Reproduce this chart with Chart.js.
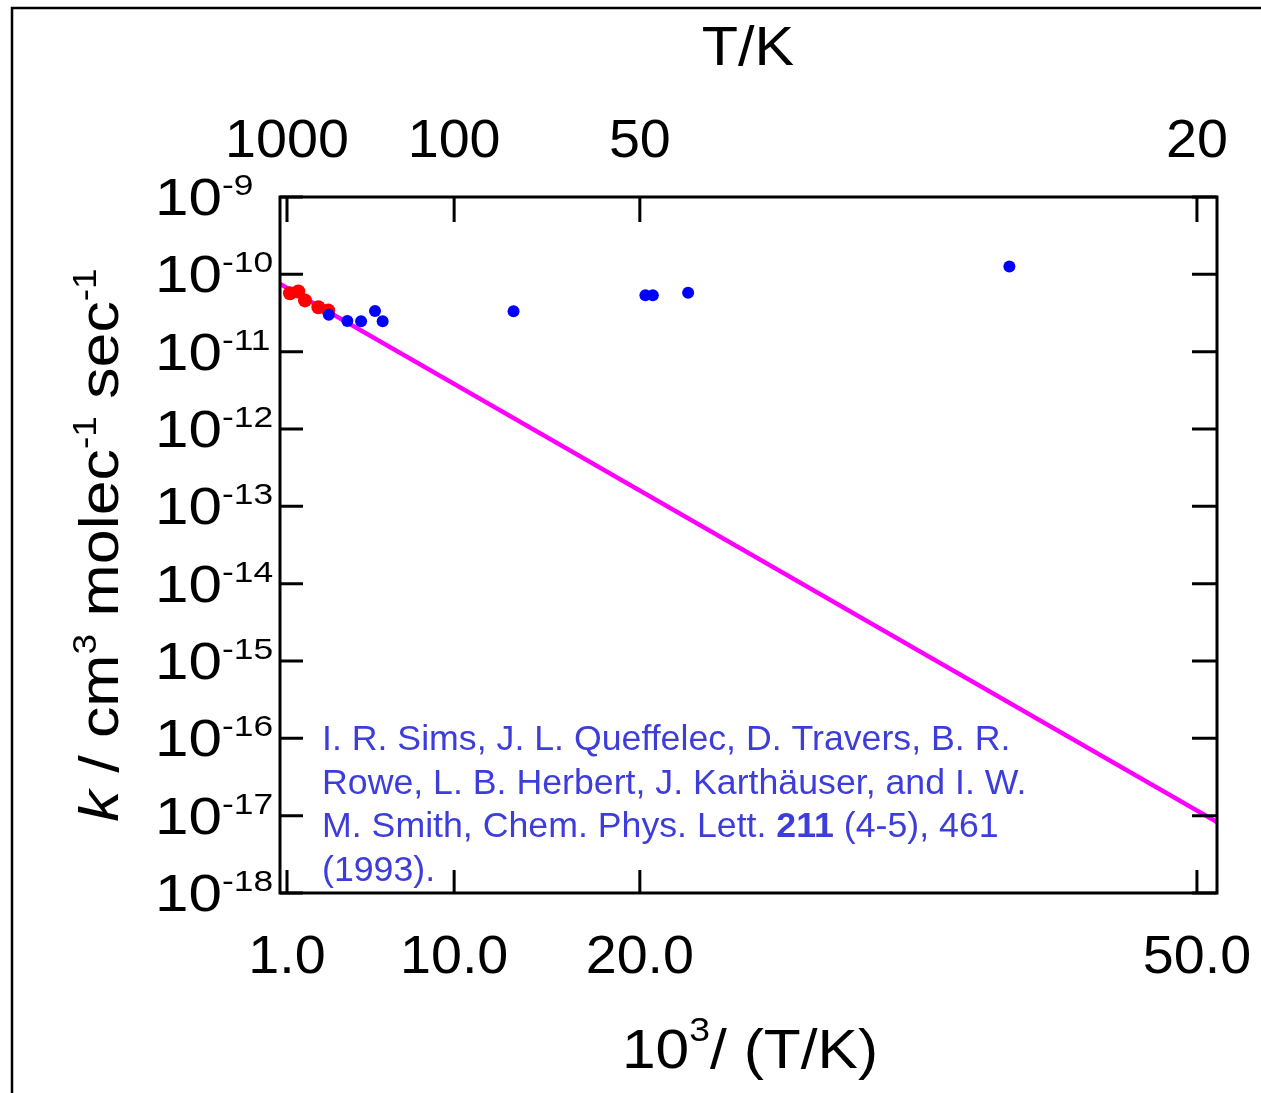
<!DOCTYPE html>
<html>
<head>
<meta charset="utf-8">
<script src="https://cdn.jsdelivr.net/npm/chart.js@4"></script>
<style>
  body { margin: 0; background: #fff; }
  canvas { display: block; }
</style>
</head>
<body>
<canvas id="rateChart" width="1261" height="1093"></canvas>
<script>
// rate constants vs 1000/T (red: high temperature, blue: CRESU low temperature)
const redX = [1.16, 1.61, 1.97, 2.69, 3.22];
const redK = [5.7e-11, 6.0e-11, 4.6e-11, 3.75e-11, 3.4e-11];
const blueX = [3.25, 4.25, 4.99, 5.74, 6.15, 13.2, 20.3, 20.7, 22.6, 39.9];
const blueK = [3.0e-11, 2.5e-11, 2.47e-11, 3.36e-11, 2.47e-11, 3.32e-11, 5.36e-11, 5.36e-11, 5.78e-11, 1.26e-10];
// Arrhenius extrapolation, end points
const fitX = [0.623, 51.08];
const fitK = [7.5e-11, 8.28e-18];

const xTicks = [1, 10, 20, 50];
const xTickLabels = ['1.0', '10.0', '20.0', '50.0'];
const topTickLabels = ['1000', '100', '50', '20'];
const yExponents = [-9, -10, -11, -12, -13, -14, -15, -16, -17, -18];

const citation = [
  [{ text: 'I. R. Sims, J. L. Queffelec, D. Travers, B. R.' }],
  [{ text: 'Rowe, L. B. Herbert, J. Karthäuser, and I. W.' }],
  [{ text: 'M. Smith, Chem. Phys. Lett. ' }, { text: '211', weight: 'bold' }, { text: ' (4-5), 461' }],
  [{ text: '(1993).' }]
];

const FONT = '"Liberation Sans", Arial, sans-serif';

function toPoints(xs, ys) {
  return xs.map((x, i) => ({ x: x, y: ys[i] }));
}

function fontOf(p, size) {
  return `${p.style || 'normal'} ${p.weight || 'normal'} ${p.size || size}px ${FONT}`;
}

// draws a run of text pieces (superscripts via rise), optionally stretched horizontally
function drawRich(ctx, x, y, parts, opt) {
  const sx = opt.sx || 1;
  const widths = parts.map(p => { ctx.font = fontOf(p, opt.size); return ctx.measureText(p.text).width; });
  const total = widths.reduce((a, b) => a + b, 0) * sx;
  let start = x;
  if (opt.align === 'center') start = x - total / 2;
  else if (opt.align === 'right') start = x - total;
  ctx.save();
  ctx.translate(start, y);
  ctx.scale(sx, 1);
  ctx.textAlign = 'left';
  ctx.textBaseline = 'alphabetic';
  let cx = 0;
  parts.forEach((p, i) => {
    ctx.font = fontOf(p, opt.size);
    ctx.fillStyle = p.color || opt.color || '#000';
    ctx.fillText(p.text, cx, -(p.rise || 0));
    cx += widths[i];
  });
  ctx.restore();
}

const decorations = {
  id: 'decorations',
  afterDraw(chart) {
    const ctx = chart.ctx;
    const xs = chart.scales.x, ys = chart.scales.y;
    const a = chart.chartArea;
    ctx.save();
    ctx.strokeStyle = '#000';
    ctx.lineCap = 'butt';

    // outer frame
    ctx.lineWidth = 2.5;
    ctx.beginPath();
    ctx.moveTo(12, 1093);
    ctx.lineTo(12, 8);
    ctx.lineTo(1261, 8);
    ctx.stroke();

    // plot box
    ctx.lineWidth = 3;
    ctx.strokeRect(a.left, a.top, a.right - a.left, a.bottom - a.top);

    // inward ticks
    xTicks.forEach(v => {
      const px = xs.getPixelForValue(v);
      ctx.beginPath();
      ctx.moveTo(px, a.top); ctx.lineTo(px, a.top + 25);
      ctx.moveTo(px, a.bottom); ctx.lineTo(px, a.bottom - 23);
      ctx.stroke();
    });
    yExponents.forEach(e => {
      const py = ys.getPixelForValue(Math.pow(10, e));
      ctx.beginPath();
      ctx.moveTo(a.left, py); ctx.lineTo(a.left + 23, py);
      ctx.moveTo(a.right, py); ctx.lineTo(a.right - 25, py);
      ctx.stroke();
    });

    // tick labels
    xTicks.forEach((v, i) => {
      const px = xs.getPixelForValue(v);
      drawRich(ctx, px, 973, [{ text: xTickLabels[i] }], { size: 53, sx: 1.05, align: 'center' });
      drawRich(ctx, px, 157, [{ text: topTickLabels[i] }], { size: 53, sx: 1.05, align: 'center' });
    });
    yExponents.forEach(e => {
      const py = ys.getPixelForValue(Math.pow(10, e));
      drawRich(ctx, 155, py + 18, [
        { text: '10' },
        { text: '-' + Math.abs(e), size: 30, rise: 20 }
      ], { size: 51, sx: 1.18, align: 'left' });
    });

    // axis titles
    drawRich(ctx, 748, 65, [{ text: 'T/K' }], { size: 55, sx: 1.08, align: 'center' });
    drawRich(ctx, 750, 1068, [
      { text: '10' },
      { text: '3', size: 34, rise: 27 },
      { text: '/ (T/K)' }
    ], { size: 55, sx: 1.1, align: 'center' });

    ctx.save();
    ctx.translate(118, 545);
    ctx.rotate(-Math.PI / 2);
    drawRich(ctx, 0, 0, [
      { text: 'k', style: 'italic' },
      { text: ' / cm' },
      { text: '3', size: 33, rise: 22 },
      { text: ' molec' },
      { text: '-1', size: 33, rise: 22 },
      { text: ' sec' },
      { text: '-1', size: 33, rise: 22 }
    ], { size: 56, sx: 1.12, align: 'center' });
    ctx.restore();

    // reference
    citation.forEach((line, i) => {
      drawRich(ctx, 322, 750 + i * 43.5, line, { size: 35, sx: 1.02, color: '#3d3ddb', align: 'left' });
    });

    ctx.restore();
  }
};

new Chart(document.getElementById('rateChart'), {
  type: 'scatter',
  data: {
    datasets: [
      {
        label: 'low T',
        data: toPoints(blueX, blueK),
        backgroundColor: '#0000ff',
        borderWidth: 0,
        pointRadius: 6,
        order: 1
      },
      {
        label: 'high T',
        data: toPoints(redX, redK),
        backgroundColor: '#ff0000',
        borderWidth: 0,
        pointRadius: 7,
        order: 2
      },
      {
        type: 'line',
        label: 'Arrhenius',
        data: toPoints(fitX, fitK),
        borderColor: '#ff00ff',
        borderWidth: 4.5,
        pointRadius: 0,
        fill: false,
        order: 3
      }
    ]
  },
  options: {
    responsive: false,
    animation: false,
    devicePixelRatio: 1,
    layout: {
      padding: { left: 280, top: 197, right: 44, bottom: 200 }
    },
    scales: {
      x: { type: 'linear', min: 0.623, max: 51.08, display: false },
      y: { type: 'logarithmic', min: 1e-18, max: 1e-9, display: false }
    },
    plugins: {
      legend: { display: false },
      tooltip: { enabled: false }
    }
  },
  plugins: [decorations]
});
</script>
</body>
</html>
